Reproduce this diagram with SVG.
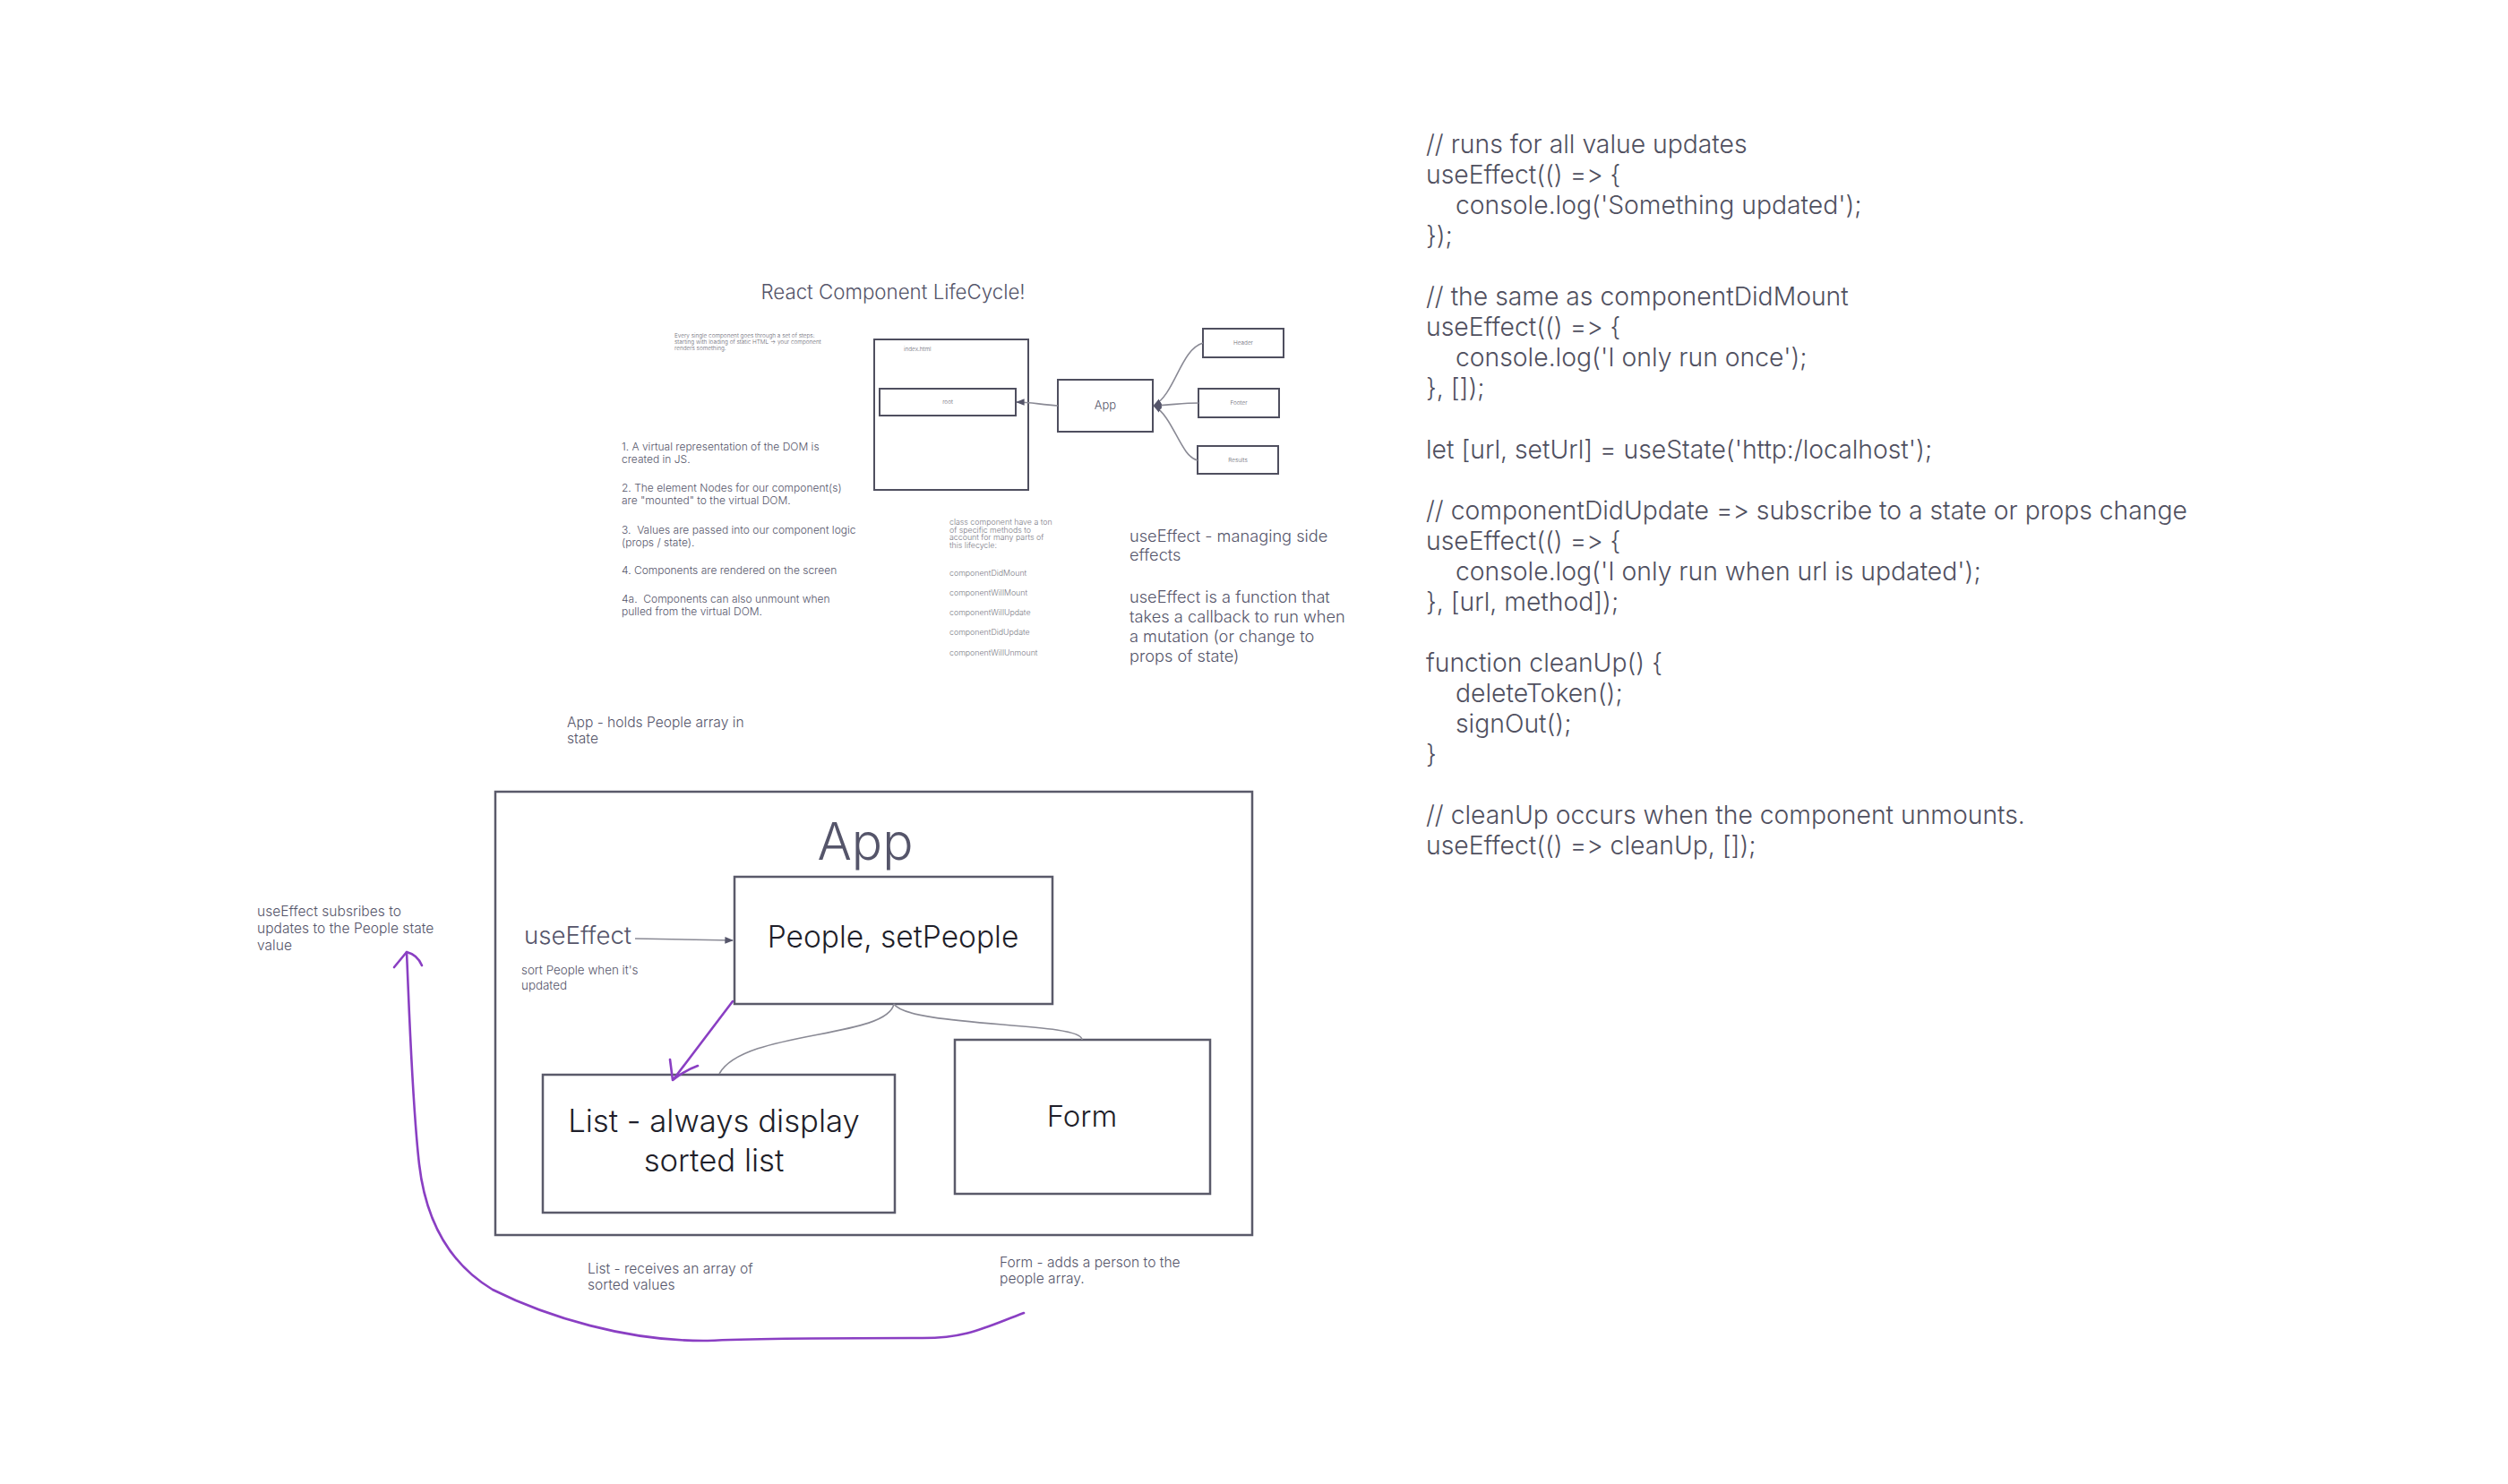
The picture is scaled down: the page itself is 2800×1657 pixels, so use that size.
<svg xmlns="http://www.w3.org/2000/svg" width="2800" height="1657" viewBox="0 0 2800 1657">
<style>
text{font-family:Inter,"Liberation Sans",sans-serif;fill:#55556a;font-weight:300;font-feature-settings:"calt" 0,"liga" 0;font-variant-ligatures:none;white-space:pre}
.box{fill:#fff;stroke:#5a5a6a;stroke-width:2.5}
.sbox{fill:#fff;stroke:#4f4f5f;stroke-width:2}
.code{font-size:28.3px;fill:#50505f}
.con{fill:none;stroke:#8a8a95;stroke-width:1.6}
.pur{fill:none;stroke:#8a3fc3;stroke-width:2.6;stroke-linecap:round;stroke-linejoin:round}
.blk{fill:#1f1f2a}
.tiny{font-size:6.4px;fill:#6a6a75}
.cls{font-size:8.8px;fill:#7a7a85}
.lst{font-size:12px}
.note{font-size:15.6px}
.ue{font-size:18.2px}
</style>
<defs>
<marker id="ah" viewBox="0 0 10 10" refX="9" refY="5" markerWidth="6" markerHeight="6" orient="auto">
<path d="M0,1 L10,5 L0,9 z" fill="#55556a"/>
</marker>
</defs>
<rect width="2800" height="1657" fill="#fff"/>

<g id="lifecycle-title"><text x="997" y="334" font-size="22.3" text-anchor="middle">React Component LifeCycle!</text></g>
<g id="intro-note">
<text class="tiny" x="753" y="377">Every single component goes through a set of steps:</text>
<text class="tiny" x="753" y="384">starting with loading of static HTML → your component</text>
<text class="tiny" x="753" y="391">renders something.</text>
</g>
<g id="index-html"><rect class="sbox" x="976" y="379" width="172" height="168"/><text class="tiny" x="1009" y="392">index.html</text></g>
<g id="root"><rect class="sbox" x="982" y="434" width="152" height="30"/><text class="tiny" x="1058" y="451" text-anchor="middle">root</text></g>
<g id="app-small"><rect class="sbox" x="1181" y="424" width="106" height="58"/><text x="1234" y="457" font-size="13" text-anchor="middle" fill="#3a3a48">App</text></g>
<g id="header"><rect class="sbox" x="1343" y="367" width="90" height="32"/><text class="tiny" x="1388" y="385" text-anchor="middle">Header</text></g>
<g id="footer"><rect class="sbox" x="1338" y="434" width="90" height="32"/><text class="tiny" x="1383" y="452" text-anchor="middle">Footer</text></g>
<g id="results"><rect class="sbox" x="1337" y="498" width="90" height="31"/><text class="tiny" x="1382" y="516" text-anchor="middle">Results</text></g>

<g id="steps">
<text class="lst" x="694" y="503">1. A virtual representation of the DOM is</text>
<text class="lst" x="694" y="517">created in JS.</text>
<text class="lst" x="694" y="549">2. The element Nodes for our component(s)</text>
<text class="lst" x="694" y="563">are "mounted" to the virtual DOM.</text>
<text class="lst" x="694" y="596">3.  Values are passed into our component logic</text>
<text class="lst" x="694" y="610">(props / state).</text>
<text class="lst" x="694" y="641">4. Components are rendered on the screen</text>
<text class="lst" x="694" y="673">4a.  Components can also unmount when</text>
<text class="lst" x="694" y="687">pulled from the virtual DOM.</text>
</g>
<g id="class-methods">
<text class="cls" x="1060" y="586">class component have a ton</text>
<text class="cls" x="1060" y="595">of specific methods to</text>
<text class="cls" x="1060" y="603">account for many parts of</text>
<text class="cls" x="1060" y="612">this lifecycle:</text>
<text class="cls" x="1060" y="643">componentDidMount</text>
<text class="cls" x="1060" y="665">componentWillMount</text>
<text class="cls" x="1060" y="687">componentWillUpdate</text>
<text class="cls" x="1060" y="709">componentDidUpdate</text>
<text class="cls" x="1060" y="732">componentWillUnmount</text>
</g>
<g id="useeffect-note">
<text class="ue" x="1261" y="605">useEffect - managing side</text>
<text class="ue" x="1261" y="626">effects</text>
<text class="ue" x="1261" y="673">useEffect is a function that</text>
<text class="ue" x="1261" y="695">takes a callback to run when</text>
<text class="ue" x="1261" y="717">a mutation (or change to</text>
<text class="ue" x="1261" y="739">props of state)</text>
</g>

<g id="code">
<text class="code" x="1592" y="171">// runs for all value updates</text>
<text class="code" x="1592" y="205">useEffect(() =&gt; {</text>
<text class="code" x="1625" y="239">console.log('Something updated');</text>
<text class="code" x="1592" y="273">});</text>
<text class="code" x="1592" y="341">// the same as componentDidMount</text>
<text class="code" x="1592" y="375">useEffect(() =&gt; {</text>
<text class="code" x="1625" y="409">console.log('I only run once');</text>
<text class="code" x="1592" y="443">}, []);</text>
<text class="code" x="1592" y="512">let [url, setUrl] = useState('http:/localhost');</text>
<text class="code" x="1592" y="580">// componentDidUpdate =&gt; subscribe to a state or props change</text>
<text class="code" x="1592" y="614">useEffect(() =&gt; {</text>
<text class="code" x="1625" y="648">console.log('I only run when url is updated');</text>
<text class="code" x="1592" y="682">}, [url, method]);</text>
<text class="code" x="1592" y="750">function cleanUp() {</text>
<text class="code" x="1625" y="784">deleteToken();</text>
<text class="code" x="1625" y="818">signOut();</text>
<text class="code" x="1592" y="852">}</text>
<text class="code" x="1592" y="920">// cleanUp occurs when the component unmounts.</text>
<text class="code" x="1592" y="954">useEffect(() =&gt; cleanUp, []);</text>
</g>

<g id="app-note">
<text class="note" x="633" y="812">App - holds People array in</text>
<text class="note" x="633" y="830">state</text>
</g>
<g id="app-container">
<rect class="box" x="553" y="884" width="845" height="495" stroke-width="2"/>
<text x="966" y="960" font-size="57" text-anchor="middle" fill="#5a5a6e">App</text>
</g>
<g id="people"><rect class="box" x="820" y="979" width="355" height="142"/><text class="blk" x="997" y="1058" font-size="33.5" text-anchor="middle">People, setPeople</text></g>
<g id="list"><rect class="box" x="606" y="1200" width="393" height="154"/>
<text class="blk" x="797" y="1264" font-size="34.7" text-anchor="middle">List - always display</text>
<text class="blk" x="797" y="1308" font-size="34.7" text-anchor="middle">sorted list</text></g>
<g id="form"><rect class="box" x="1066" y="1161" width="285" height="172"/><text class="blk" x="1208" y="1258" font-size="33" text-anchor="middle">Form</text></g>
<g id="useeffect-label">
<text x="585" y="1054" font-size="27.6">useEffect</text>
<text x="582" y="1088" font-size="13.4">sort People when it's</text>
<text x="582" y="1105" font-size="13.4">updated</text>
</g>
<g id="subscribe-note">
<text class="note" x="287" y="1023">useEffect subsribes to</text>
<text class="note" x="287" y="1042">updates to the People state</text>
<text class="note" x="287" y="1061">value</text>
</g>
<g id="list-note">
<text class="note" x="656" y="1422">List - receives an array of</text>
<text class="note" x="656" y="1440">sorted values</text>
</g>
<g id="form-note">
<text class="note" x="1116" y="1415">Form - adds a person to the</text>
<text class="note" x="1116" y="1433">people array.</text>
</g>

<g id="connectors">
<path class="con" d="M1181,453 C1162,452 1152,449 1135,449" marker-end="url(#ah)"/>
<path class="con" d="M1343,383 C1318,390 1312,440 1288,453" marker-end="url(#ah)"/>
<path class="con" d="M1338,450 C1320,450 1310,452 1288,453" marker-end="url(#ah)"/>
<path class="con" d="M1337,514 C1318,510 1310,465 1288,453" marker-end="url(#ah)"/>
<path class="con" d="M709,1048 L818,1050" marker-end="url(#ah)"/>
<path class="con" d="M998,1121 C990,1160 830,1150 803,1199"/>
<path class="con" d="M998,1121 C1010,1140 1120,1142 1180,1150 C1200,1153 1208,1157 1208,1161"/>
<path class="pur" d="M818,1118 L752,1205"/>
<path class="pur" d="M748,1183 L751,1206 Q765,1195 779,1190"/>
<path class="pur" d="M1143,1466 C1100,1482 1080,1494 1030,1494 C950,1494 850,1494 790,1497 C700,1498 610,1470 550,1440 C500,1410 475,1360 468,1300 C460,1230 457,1130 454,1063"/>
<path class="pur" d="M440,1080 L454,1063 Q466,1066 471,1078"/>
</g>
</svg>
